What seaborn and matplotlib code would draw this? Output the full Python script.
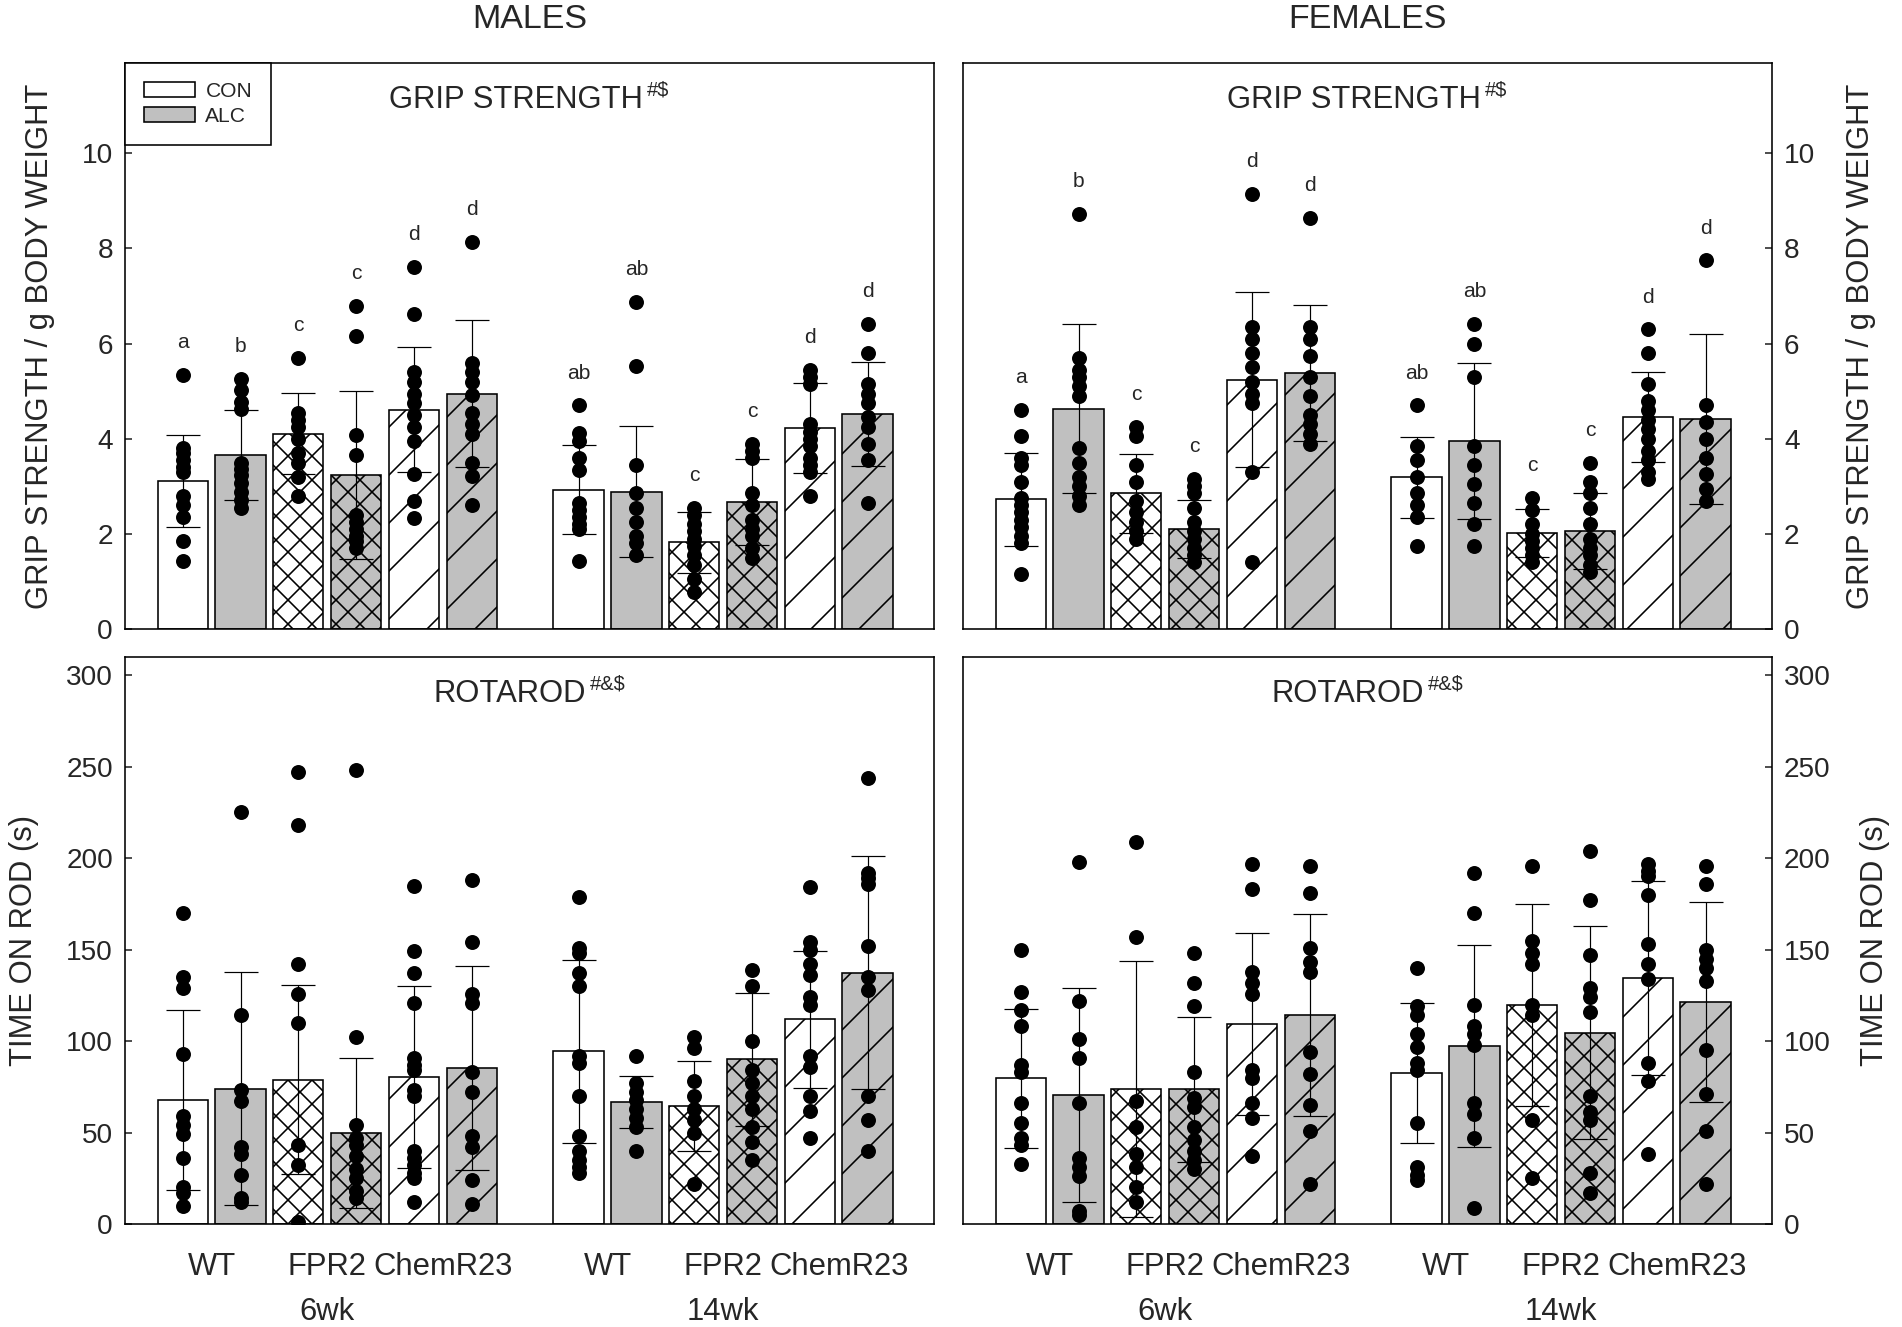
import numpy as np
import pandas as pd
import matplotlib
matplotlib.use("Agg")
import matplotlib.pyplot as plt
import matplotlib.transforms as mtransforms
from matplotlib.patches import Patch
import seaborn as sns

# groups (bar order: age -> genotype -> treatment)
ages = ["6wk", "14wk"]
genotypes = ["WT", "FPR2", "ChemR23"]
treatments = ["CON", "ALC"]

# grip strength, males
grip_male_mean = [3.11, 3.66, 4.11, 3.24, 4.61, 4.95, 2.93, 2.89, 1.82, 2.67, 4.22, 4.52]
grip_male_sd = [0.96, 0.95, 0.86, 1.76, 1.31, 1.55, 0.94, 1.37, 0.64, 0.91, 0.95, 1.09]
grip_male_letters = ["a", "b", "c", "c", "d", "d", "ab", "ab", "c", "c", "d", "d"]
grip_male_pts = [
    [5.35, 3.8, 3.7, 3.55, 3.4, 3.3, 2.8, 2.6, 2.35, 1.85, 1.42],
    [5.25, 5.02, 4.78, 4.63, 3.5, 3.37, 3.24, 3.06, 2.89, 2.72, 2.54],
    [5.7, 4.55, 4.4, 4.25, 4.0, 3.7, 3.5, 3.2, 2.8],
    [6.8, 6.15, 4.08, 3.65, 2.4, 2.25, 2.1, 1.95, 1.85, 1.7],
    [7.62, 6.62, 5.4, 5.2, 4.95, 4.75, 4.5, 4.25, 3.95, 3.25, 2.7, 2.33],
    [8.13, 5.6, 5.4, 5.2, 4.92, 4.55, 4.3, 4.1, 3.5, 3.22, 2.6],
    [4.7, 4.12, 3.95, 3.6, 3.35, 2.65, 2.5, 2.35, 2.2, 2.1, 1.42],
    [6.88, 5.52, 3.45, 2.85, 2.55, 2.25, 1.95, 1.8, 1.55],
    [2.55, 2.4, 2.2, 2.05, 1.9, 1.75, 1.55, 1.35, 1.05, 0.78],
    [3.9, 3.75, 3.6, 2.85, 2.6, 2.3, 2.1, 1.95, 1.7, 1.5],
    [5.45, 5.3, 5.15, 4.3, 4.15, 4.0, 3.85, 3.6, 3.45, 3.3, 2.8],
    [6.42, 5.8, 5.15, 4.95, 4.75, 4.45, 4.25, 3.9, 3.55, 2.65],
]

# grip strength, females
grip_female_mean = [2.73, 4.63, 2.85, 2.11, 5.24, 5.39, 3.19, 3.95, 2.02, 2.06, 4.46, 4.41]
grip_female_sd = [0.98, 1.78, 0.83, 0.61, 1.84, 1.43, 0.85, 1.64, 0.50, 0.79, 0.95, 1.79]
grip_female_letters = ["a", "b", "c", "c", "d", "d", "ab", "ab", "c", "c", "d", "d"]
grip_female_pts = [
    [4.6, 4.05, 3.6, 3.45, 3.1, 2.75, 2.6, 2.45, 2.3, 2.15, 1.95, 1.8, 1.15],
    [8.72, 5.7, 5.45, 5.3, 5.1, 4.9, 3.8, 3.5, 3.2, 3.0, 2.8, 2.6],
    [4.25, 4.05, 3.45, 3.1, 2.7, 2.45, 2.25, 2.05, 1.9],
    [3.15, 3.0, 2.85, 2.55, 2.25, 2.05, 1.9, 1.7, 1.55, 1.4],
    [9.15, 6.35, 6.1, 5.8, 5.5, 5.2, 4.95, 4.75, 3.3, 1.4],
    [8.65, 6.35, 6.1, 5.75, 5.3, 4.9, 4.5, 4.3, 4.1, 3.9],
    [4.7, 3.85, 3.55, 3.2, 2.85, 2.6, 2.35, 1.75],
    [6.42, 6.0, 5.3, 3.85, 3.45, 3.05, 2.65, 2.2, 1.75],
    [2.75, 2.5, 2.2, 2.0, 1.85, 1.7, 1.55, 1.4],
    [3.5, 3.1, 2.85, 2.55, 2.2, 1.9, 1.7, 1.55, 1.35, 1.2],
    [6.3, 5.8, 5.15, 4.8, 4.6, 4.4, 4.2, 4.0, 3.75, 3.55, 3.3, 3.15],
    [7.75, 4.7, 4.35, 4.0, 3.6, 3.25, 2.95, 2.7],
]

# rotarod, males
rota_male_mean = [67.8, 74.0, 78.8, 49.8, 80.5, 85.3, 94.4, 66.6, 64.7, 90.0, 112.0, 137.5]
rota_male_sd = [49.0, 63.6, 51.6, 41.0, 49.8, 56.0, 50.0, 14.3, 24.6, 36.5, 37.4, 63.9]
rota_male_pts = [
    [170, 135, 129, 93, 59, 54, 49, 36, 20, 17, 10],
    [225, 114, 73, 67, 42, 38, 27, 14, 12],
    [247, 218, 142, 126, 110, 43, 32, 1],
    [248, 102, 54, 47, 43, 37, 30, 25, 18, 14],
    [185, 149, 137, 121, 91, 87, 84, 73, 70, 40, 36, 32, 28, 25, 12],
    [188, 154, 126, 121, 83, 72, 48, 42, 24, 11],
    [179, 151, 148, 137, 130, 92, 88, 70, 48, 40, 35, 31, 28],
    [92, 77, 72, 68, 63, 58, 53, 40],
    [102, 96, 78, 70, 63, 57, 50, 22],
    [139, 130, 100, 84, 77, 70, 63, 53, 45, 35],
    [184, 154, 150, 142, 136, 124, 120, 92, 86, 70, 62, 47],
    [244, 192, 189, 186, 152, 135, 128, 70, 57, 40],
]

# rotarod, females
rota_female_mean = [79.8, 70.7, 74.0, 73.6, 109.5, 114.5, 82.7, 97.3, 119.8, 104.7, 134.7, 121.5]
rota_female_sd = [38.0, 58.5, 70.0, 39.6, 49.7, 55.2, 38.3, 55.3, 55.2, 58.4, 53.0, 54.7]
rota_female_pts = [
    [150, 127, 117, 108, 87, 83, 66, 55, 47, 43, 33],
    [198, 122, 101, 91, 66, 36, 31, 26, 7, 5],
    [209, 157, 67, 53, 38, 31, 20, 12],
    [148, 132, 119, 83, 69, 64, 53, 46, 40, 35, 30],
    [197, 183, 138, 132, 126, 84, 80, 66, 58, 37],
    [196, 181, 151, 143, 138, 94, 82, 65, 51, 22],
    [140, 119, 114, 104, 97, 88, 84, 55, 31, 27, 24],
    [192, 170, 120, 108, 104, 98, 66, 60, 47, 9],
    [196, 155, 148, 142, 120, 114, 57, 25],
    [204, 177, 147, 129, 124, 116, 70, 61, 57, 28, 17],
    [197, 193, 190, 180, 153, 142, 134, 88, 78, 38],
    [196, 186, 150, 145, 140, 133, 95, 71, 51, 22],
]

hatch_for = {"WT": "", "FPR2": "xx", "ChemR23": "/"}
fill_for = {"CON": "white", "ALC": "#c0c0c0"}

sns.set_theme(style="ticks")
plt.rcParams["font.family"] = ["Liberation Sans", "DejaVu Sans"]
plt.rcParams["hatch.linewidth"] = 0.8
plt.rcParams["hatch.color"] = "black"

DPI = 144
W, H = 1902, 1327
fig = plt.figure(figsize=(W / DPI, H / DPI), dpi=DPI)


def px_axes(x0, y0, x1, y1):
    return fig.add_axes([x0 / W, 1 - y1 / H, (x1 - x0) / W, (y1 - y0) / H])


# bar x positions
groups = []
for a_i, age in enumerate(ages):
    for g_i, geno in enumerate(genotypes):
        for t_i, trt in enumerate(treatments):
            groups.append((age, geno, trt, a_i * 6.85 + g_i * 2 + t_i))
xpos = np.array([g[3] for g in groups])


def panel_title(ax, title, sup):
    # main text shifted left so that title + superscript is centred
    shift = len(sup) * 2.9 + 1
    main = ax.annotate(title, xy=(0.5, 0.921), xycoords="axes fraction",
                       xytext=(-shift, 0), textcoords="offset points",
                       ha="center", va="baseline", fontsize=15.5)
    ax.annotate(sup, xy=(1, 1), xycoords=main, xytext=(2, 2),
                textcoords="offset points", ha="left", va="top", fontsize=10)


def draw_panel(ax, means, sds, pts, ymax, letters=None, side="left"):
    for (age, geno, trt, x), m in zip(groups, means):
        ax.bar(x, m, width=0.87, color=fill_for[trt], edgecolor="black",
               linewidth=0.8, hatch=hatch_for[geno], zorder=1)
    ax.errorbar(xpos, means, yerr=sds, fmt="none", ecolor="black",
                elinewidth=0.6, capsize=8.5, capthick=0.6, zorder=2)

    df = pd.DataFrame({"x": np.repeat(xpos, [len(p) for p in pts]),
                       "value": np.concatenate(pts)})
    sns.scatterplot(data=df, x="x", y="value", ax=ax, color="black", s=56,
                    linewidth=0, zorder=3, legend=False)

    if letters is not None:
        for x, m, sd, p, lab in zip(xpos, means, sds, pts, letters):
            top = max(max(p), m + sd)
            ax.text(x, top + 0.68, lab, ha="center", va="center", fontsize=10.5)

    ax.set_xlim(-1.0, 13.0)
    ax.set_ylim(0, ymax)
    ax.set_xlabel("")
    for s in ax.spines.values():
        s.set_visible(True)
        s.set_linewidth(0.8)
        s.set_color("black")
    if side == "right":
        ax.yaxis.tick_right()
        ax.yaxis.set_label_position("right")
    ax.tick_params(axis="y", direction="in", length=3.5, width=0.8,
                   labelsize=14, pad=6)


# panels
ax_gm = px_axes(125, 63, 934, 629)
ax_gf = px_axes(963, 63, 1772, 629)
ax_rm = px_axes(125, 657, 934, 1224)
ax_rf = px_axes(963, 657, 1772, 1224)

draw_panel(ax_gm, grip_male_mean, grip_male_sd, grip_male_pts, 11.9, grip_male_letters)
draw_panel(ax_gf, grip_female_mean, grip_female_sd, grip_female_pts, 11.9, grip_female_letters, side="right")
draw_panel(ax_rm, rota_male_mean, rota_male_sd, rota_male_pts, 310)
draw_panel(ax_rf, rota_female_mean, rota_female_sd, rota_female_pts, 310, side="right")

for ax in (ax_gm, ax_gf):
    panel_title(ax, "GRIP STRENGTH", "#$")
    ax.set_yticks(np.arange(0, 11, 2))
    ax.set_xticks([])
    ax.set_ylabel("GRIP STRENGTH / g BODY WEIGHT", fontsize=15.5)

pair_centers = xpos[::2] + 0.5
for ax in (ax_rm, ax_rf):
    panel_title(ax, "ROTAROD", "#&$")
    ax.set_yticks(np.arange(0, 301, 50))
    ax.set_xticks(pair_centers, genotypes * 2)
    ax.tick_params(axis="x", length=0, labelsize=15.5, pad=14)
    ax.set_ylabel("TIME ON ROD (s)", fontsize=15.5)
    trans = mtransforms.blended_transform_factory(ax.transData, ax.transAxes)
    for a_i, age in enumerate(ages):
        ax.text(pair_centers[a_i * 3 + 1], -0.155, age, transform=trans,
                ha="center", va="center", fontsize=15.5)

ax_gm.yaxis.set_label_coords(-0.0865, 0.5)
ax_rm.yaxis.set_label_coords(-0.1057, 0.5)
ax_gf.yaxis.set_label_coords(1.0915, 0.5)
ax_rf.yaxis.set_label_coords(1.1088, 0.5)

# legend
handles = [Patch(facecolor=fill_for[t], edgecolor="black", linewidth=0.8, label=t)
           for t in treatments]
leg = ax_gm.legend(handles=handles, loc="upper left", bbox_to_anchor=(0, 1),
                   borderaxespad=0, fontsize=10.5, frameon=True, fancybox=False,
                   framealpha=1, edgecolor="black", handlelength=2.43,
                   handleheight=0.71, borderpad=0.9, labelspacing=0.3,
                   handletextpad=0.5)
leg.get_frame().set_linewidth(0.8)

fig.text((125 + 934) / 2 / W, 1 - 20 / H, "MALES", ha="center", va="center", fontsize=17)
fig.text((963 + 1772) / 2 / W, 1 - 20 / H, "FEMALES", ha="center", va="center", fontsize=17)

fig.savefig("out.png", dpi=DPI)
